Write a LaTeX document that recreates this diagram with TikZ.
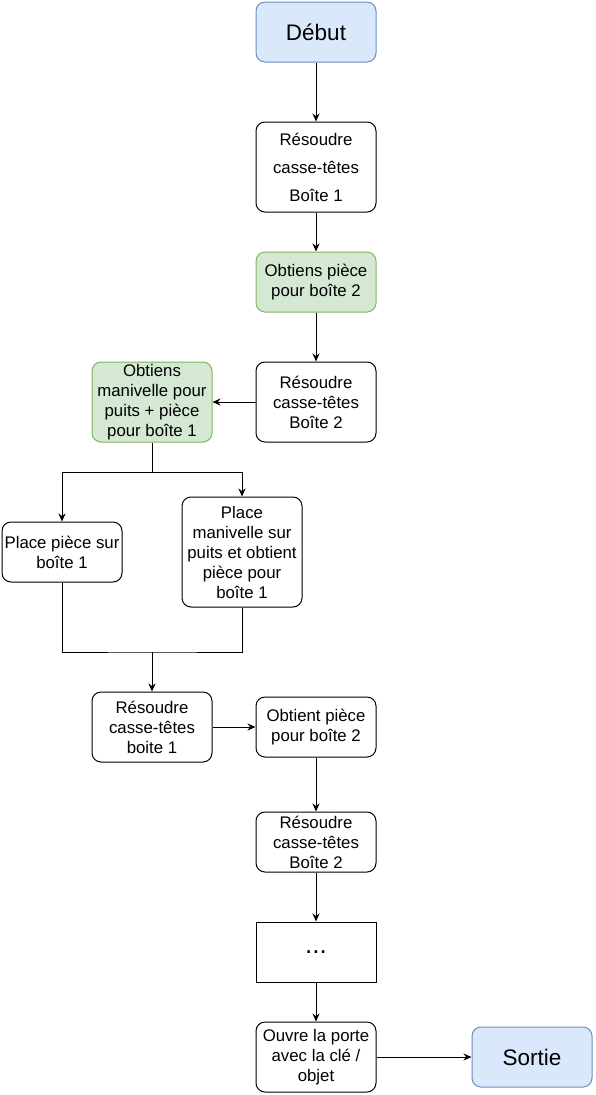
\documentclass[tikz,border=0pt]{standalone}
\usepackage{fontspec}
\setmainfont{Liberation Sans}
\usetikzlibrary{positioning,arrows.meta}

\definecolor{bluefill}{HTML}{DAE8FC}
\definecolor{blueline}{HTML}{6C8EBF}
\definecolor{greenfill}{HTML}{D5E8D4}
\definecolor{greenline}{HTML}{82B366}

\begin{document}
\begin{tikzpicture}
          [box/.style={rectangle,rounded corners=9pt,draw=black,fill=white,line width=1pt,
             minimum width=120pt,minimum height=60pt,inner sep=0pt,align=center,
             font=\fontsize{16.8}{20}\selectfont},
           terminal/.style={box,draw=blueline,fill=bluefill,font=\fontsize{22.5}{26}\selectfont},
           action/.style={box,draw=greenline,fill=greenfill},
           node distance=120pt and 164pt,
           on grid,
           >={Stealth[length=8pt,width=7pt]}
          ]
          \useasboundingbox (0,0) rectangle (595pt,-1095pt);
          \node[terminal] (debut) at (316pt,-32pt) {Début};
          \node[box,minimum height=90pt,font=\fontsize{16.8}{28}\selectfont,below=135pt of debut] (res1) {Résoudre\\casse-têtes\\Boîte 1};
          \node[action,below=115pt of res1] (piece2) {Obtiens pièce\\pour boîte 2};
          \node[box,minimum height=80pt,below=of piece2] (res2) {Résoudre\\casse-têtes\\Boîte 2};
          \node[action,minimum height=80pt,left=of res2] (manivelle) {Obtiens\\manivelle pour\\puits + pièce\\pour boîte 1};
          \coordinate[below=70pt of manivelle] (split);
          \node[box,below left=150pt and 90pt of manivelle] (placepiece) {Place pièce sur\\boîte 1};
          \node[box,minimum height=110pt,below right=150pt and 90pt of manivelle] (placemanivelle) {Place\\manivelle sur\\puits et obtient\\pièce pour\\boîte 1};
          \coordinate[below=250pt of manivelle] (join);
          \node[box,minimum height=70pt,below=325pt of manivelle] (res3) {Résoudre\\casse-têtes\\boite 1};
          \node[box,right=of res3] (obtient) {Obtient pièce\\pour boîte 2};
          \node[box,below=115pt of obtient] (res4) {Résoudre\\casse-têtes\\Boîte 2};
          \node[box,rounded corners=0pt,font=\fontsize{26}{30}\selectfont,below=110pt of res4] (dots) {...};
          \node[box,minimum height=70pt,below=105pt of dots] (ouvre) {Ouvre la porte\\avec la clé /\\objet};
          \node[terminal,right=216pt of ouvre] (sortie) {Sortie};
          \draw[->,line width=1pt]
            (debut) edge (res1)
            (res1) edge (piece2)
            (piece2) edge (res2)
            (res2) edge (manivelle)
            (res3) edge (obtient)
            (obtient) edge (res4)
            (res4) edge (dots)
            (dots) edge (ouvre)
            (ouvre) edge (sortie);
          \draw[->,line width=1pt] (manivelle) -- (split) -| (placepiece);
          \draw[->,line width=1pt] (split) -| (placemanivelle);
          \draw[line width=1pt] (placepiece) |- (join) -| (placemanivelle);
          \draw[->,line width=1pt] (join) -- (res3);
        \end{tikzpicture}
\end{document}
